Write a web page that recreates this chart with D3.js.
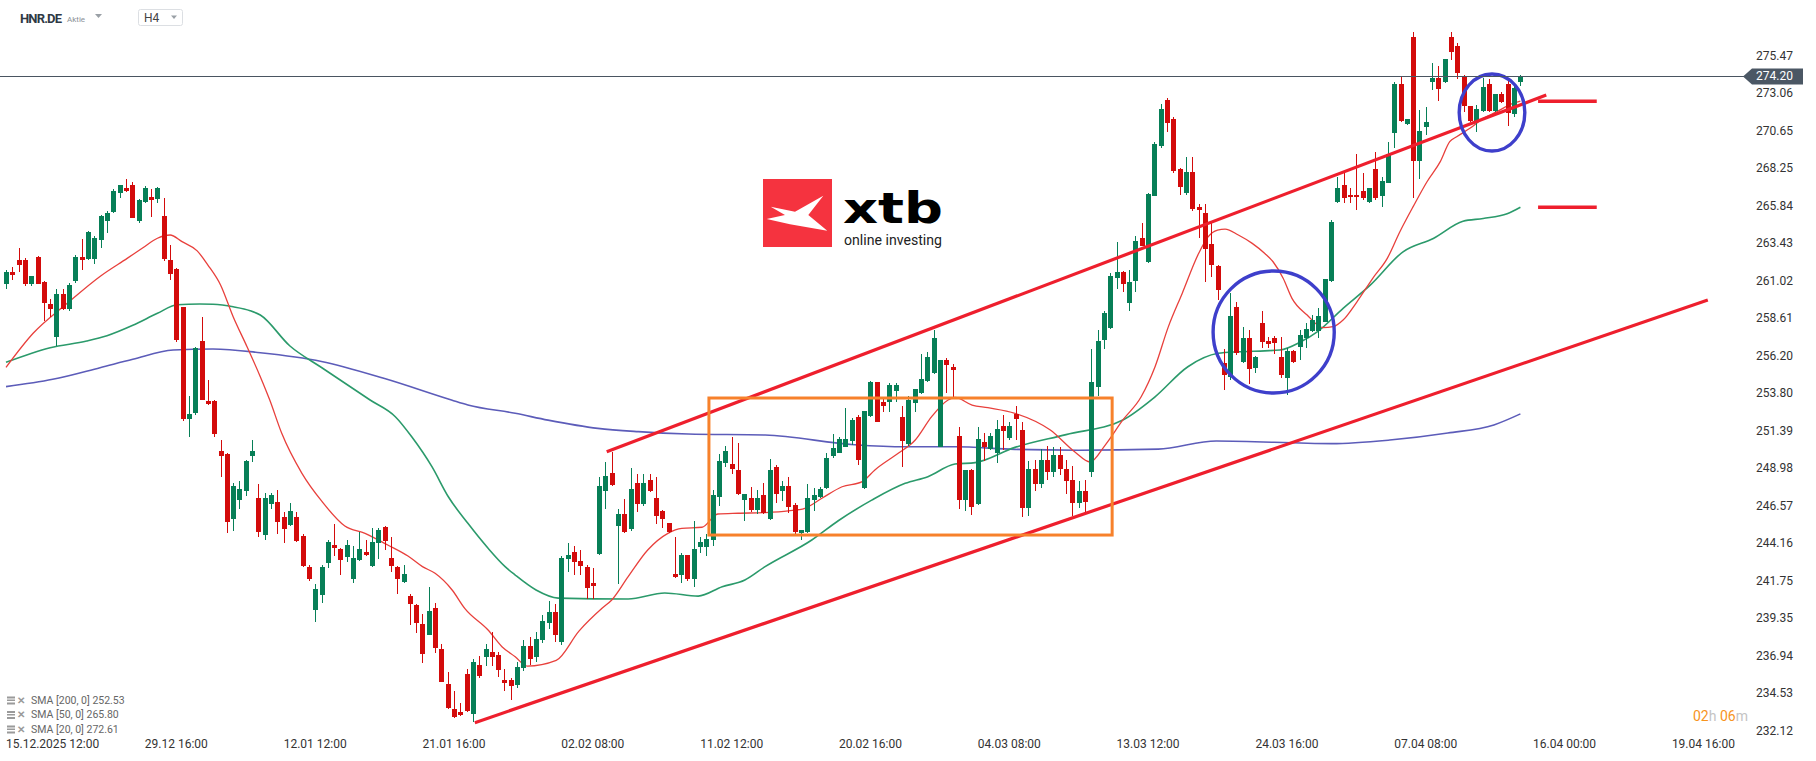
<!DOCTYPE html>
<html><head><meta charset="utf-8">
<script src="https://cdn.jsdelivr.net/npm/d3@7"></script>
<style>
html,body{margin:0;padding:0;background:#fff;overflow:hidden}
svg{display:block;font-family:Roboto,"Liberation Sans",sans-serif}
</style></head><body>
<svg id="chart" width="1816" height="761"></svg>
<script>
// ---------- DATA (H4 candles, HNR.DE) ----------
const opens=[260.89,261.64,262.41,262.41,260.89,262.60,261.00,259.58,257.49,260.23,
259.28,261.06,262.60,262.50,262.50,263.72,264.91,265.51,266.73,267.03,
267.23,264.91,266.16,266.46,266.33,265.24,262.41,261.83,259.39,252.22,
252.61,257.21,253.35,253.35,250.14,249.95,245.80,247.02,247.60,249.84,
247.13,244.75,246.76,246.87,245.91,245.41,245.91,244.69,242.67,239.95,
240.92,242.95,244.11,243.85,243.36,241.92,243.17,243.66,242.78,244.21,
245.26,243.27,242.69,241.75,240.83,240.25,239.03,238.35,240.06,237.43,
235.18,233.57,233.38,235.82,233.27,236.40,236.94,237.24,237.04,235.44,
235.44,235.10,236.20,237.60,236.90,238.00,239.10,239.80,237.90,243.19,
243.66,243.09,242.72,241.67,243.56,247.60,248.76,245.35,246.13,245.14,
248.10,246.75,248.29,247.13,246.28,245.50,242.23,242.17,243.47,241.95,
244.01,244.01,244.41,247.22,249.40,249.32,248.93,247.02,247.11,246.36,
247.30,245.80,249.12,247.60,247.90,246.65,244.90,244.94,247.00,247.17,
247.79,249.84,250.04,250.42,250.81,252.31,247.79,252.41,254.58,253.31,
253.27,254.00,252.33,250.59,253.25,253.85,254.66,255.13,250.42,255.99,
255.52,251.11,247.00,248.92,246.74,250.70,250.25,250.04,251.75,250.98,
252.52,251.50,246.50,249.00,248.00,249.60,248.80,249.90,249.00,248.30,
246.80,247.60,248.80,254.27,257.27,258.06,261.27,261.64,259.67,261.06,
263.82,262.30,266.54,269.73,272.69,271.47,268.23,266.73,268.04,265.79,
265.41,263.44,262.02,255.79,254.87,259.37,255.86,257.40,255.45,258.34,
257.20,257.38,256.20,254.85,256.56,256.84,257.38,257.85,257.85,258.45,
261.06,266.15,267.22,266.62,266.62,266.84,266.15,268.25,266.54,267.39,
270.58,273.69,271.16,276.71,268.79,270.97,273.82,274.07,273.82,276.71,
276.15,274.25,272.30,271.36,272.00,273.69,272.00,273.07,273.69,271.78,
273.82];
const highs=[261.77,261.96,263.18,262.54,261.38,262.65,261.05,259.88,260.55,260.55,
260.91,262.73,263.76,264.30,263.95,265.30,265.56,266.97,267.23,267.61,
267.40,266.30,267.16,266.97,267.10,266.39,263.37,261.90,259.40,253.65,
256.80,258.75,254.70,253.40,250.85,250.04,248.07,248.20,249.55,250.85,
248.02,247.43,247.43,247.64,246.23,246.80,246.23,244.81,242.82,241.60,
242.82,244.43,245.46,243.90,244.43,244.04,244.96,244.43,245.20,245.20,
245.30,244.62,242.75,242.82,240.96,240.30,239.70,241.41,240.40,237.73,
235.95,234.73,233.96,236.12,236.81,236.98,237.73,238.54,237.26,236.12,
235.54,236.60,238.00,238.20,238.50,239.60,240.50,240.30,243.40,244.26,
244.05,243.79,242.80,242.64,248.50,249.44,250.09,246.43,247.05,249.08,
248.65,248.65,248.65,248.46,246.35,245.55,244.65,243.58,243.50,245.65,
244.65,244.82,247.65,249.94,250.47,251.03,250.66,247.39,247.82,247.64,
248.11,249.61,249.24,248.20,248.50,246.83,245.10,248.02,247.75,247.85,
250.04,251.24,251.06,252.91,252.28,252.48,252.73,254.66,254.58,253.57,
254.49,254.49,253.06,253.68,254.10,256.35,256.52,257.92,255.99,256.14,
255.73,251.66,248.92,249.00,251.66,251.28,251.28,252.13,252.43,252.01,
253.03,252.00,249.50,249.60,250.30,250.50,250.40,250.40,249.60,249.20,
248.20,248.30,256.67,257.91,259.15,261.60,263.56,261.68,261.77,263.95,
264.76,266.69,269.99,272.43,272.81,271.57,268.30,269.00,269.00,265.98,
265.98,264.76,262.10,256.67,260.27,259.69,258.11,257.91,256.26,259.15,
257.48,257.53,257.48,256.73,256.63,257.91,258.34,258.87,259.30,261.19,
264.98,267.76,267.97,267.01,269.19,268.02,267.05,269.36,267.76,270.01,
273.86,274.18,271.44,277.07,272.04,272.25,275.08,274.87,275.32,277.07,
276.32,274.29,272.30,272.40,274.07,274.01,273.07,273.22,273.97,273.65,
274.29];
const lows=[260.57,261.12,261.64,260.76,260.76,260.85,258.51,258.77,256.91,259.20,
259.16,260.95,261.79,262.40,262.15,263.18,264.17,265.45,266.39,266.80,
265.10,264.81,266.10,265.19,266.05,262.37,261.12,257.14,252.09,251.06,
252.46,253.40,253.10,251.06,248.49,244.85,245.03,246.44,247.27,249.46,
244.64,244.43,246.44,244.81,244.26,245.35,244.30,242.67,241.82,239.18,
240.40,242.65,243.40,242.20,243.04,241.65,243.10,243.40,242.70,243.23,
243.79,242.40,240.98,241.70,238.99,238.43,236.55,238.30,237.19,235.30,
233.55,233.00,233.10,233.40,232.74,235.60,236.36,236.36,235.61,234.75,
234.15,234.90,236.00,236.40,236.60,237.80,238.70,237.90,237.70,242.38,
242.19,242.19,240.62,240.62,243.50,246.43,247.90,241.61,244.90,245.03,
246.23,246.64,247.50,245.46,245.18,244.90,242.00,241.65,241.82,241.44,
243.62,243.41,244.07,246.64,249.10,248.70,247.30,245.68,246.23,246.10,
246.08,245.70,246.83,246.95,246.14,244.81,244.43,244.90,246.27,247.10,
247.70,249.67,250.00,250.40,250.55,249.27,247.70,252.35,252.00,252.67,
252.67,253.31,249.09,250.50,252.67,253.80,254.60,255.10,250.40,253.89,
253.46,246.42,246.27,246.05,246.70,249.52,250.20,249.35,250.21,250.85,
250.85,245.90,246.00,247.60,247.80,248.30,248.50,248.60,247.40,246.00,
246.50,246.20,248.50,253.69,256.71,258.00,260.55,260.38,259.15,260.35,
263.30,262.20,266.50,269.62,270.65,268.02,266.58,266.58,265.56,263.80,
260.97,261.34,259.86,254.06,254.70,256.29,255.80,254.42,255.13,256.74,
256.78,256.35,254.81,253.74,255.83,255.98,256.73,257.76,257.38,258.40,
261.00,266.10,266.05,266.05,265.60,266.26,266.10,266.26,265.79,267.33,
269.62,271.29,271.10,266.41,267.63,270.43,273.33,272.64,273.80,275.29,
274.03,271.93,271.30,270.65,271.90,271.89,271.95,272.50,271.03,271.61,
273.60];
const closes=[261.64,261.47,262.11,260.89,261.38,260.89,259.67,259.28,260.23,259.28,
260.80,262.60,262.41,264.21,263.82,265.24,265.45,266.84,267.23,266.86,
265.13,266.26,267.03,266.29,267.03,262.50,261.53,257.27,252.22,252.52,
256.76,253.44,253.18,251.26,249.84,245.60,247.90,247.70,249.50,250.14,
244.96,247.13,247.32,245.61,245.16,246.27,244.39,242.78,241.92,241.26,
242.69,244.30,243.94,243.17,244.11,243.27,243.85,243.49,244.30,245.07,
244.39,242.78,241.92,242.25,240.34,239.12,237.13,239.87,237.51,235.33,
233.66,233.08,233.19,233.47,236.59,235.72,237.43,236.94,236.10,235.24,
235.07,236.30,237.60,236.80,238.10,239.20,239.80,238.30,243.26,243.47,
243.00,242.76,241.37,241.50,247.92,248.55,247.99,246.13,244.95,247.71,
246.75,248.10,247.60,245.98,245.80,244.93,242.06,243.47,241.95,243.86,
244.33,244.50,247.32,249.49,250.15,249.02,247.41,247.37,246.36,247.11,
246.14,248.92,247.40,247.90,246.57,244.96,245.07,247.12,247.32,247.70,
249.69,250.34,250.91,250.91,252.13,249.57,252.71,254.55,252.03,253.06,
254.38,254.38,250.81,253.42,254.10,254.75,256.20,257.38,255.99,255.69,
255.35,247.00,248.92,246.57,250.91,250.42,251.11,251.56,251.45,251.75,
252.22,246.50,249.00,248.00,249.60,248.80,249.90,249.00,248.20,246.80,
247.60,246.90,254.59,257.21,259.03,261.38,261.62,260.89,261.02,263.61,
263.33,266.65,269.86,272.11,271.19,268.15,267.12,268.04,265.71,265.62,
263.14,262.09,260.48,255.04,258.81,256.41,257.40,255.43,256.20,257.12,
257.03,257.10,255.06,256.56,255.88,257.59,257.97,258.55,258.81,261.19,
264.87,267.01,266.37,266.47,266.47,266.37,267.01,266.37,267.48,269.24,
273.69,271.36,271.44,268.79,270.69,271.25,274.07,273.39,275.32,275.79,
274.40,272.32,271.36,272.10,273.50,272.00,273.07,272.58,271.83,273.43,
274.20];

// moving averages: [bar index, value]
const sma200=[[0,254.28],[7.4,254.75],[14.9,255.5],[20.1,256.04],[26.5,256.63],[32.8,256.7],[40.3,256.46],
[50,255.9],[60,254.8],[70.6,253.42],[73.2,253.1],[80.7,252.57],[85.9,252.13],[93.8,251.6],[100.2,251.39],
[108.1,251.24],[120.3,251.17],[134.5,250.55],[142.5,250.42],[150.4,250.42],[159.9,250.25],[170,250.2],
[182.6,250.27],[191.8,250.79],[210.1,250.62],[219.3,250.85],[228.5,251.3],[235.8,251.82],[240,252.53]];
const sma50=[[0,255.84],[7,256.78],[12.8,257.21],[16,257.55],[20.1,258.22],[24,258.99],[27.1,259.54],
[30.7,259.59],[32.8,259.57],[36,259.41],[38.7,259.16],[40.3,258.88],[45,256.89],[50,255.51],[57.7,253.42],
[61.7,252.35],[64.3,251.06],[67.5,249.14],[70.1,247.21],[73.2,245.5],[76.4,243.9],[79.1,242.72],[80.7,242.18],
[84,241.22],[87.5,240.7],[98.6,240.64],[104.4,241.03],[109.7,240.83],[113.5,241.43],[117.1,241.86],[120.3,242.72],
[127.7,244.43],[131.9,245.67],[137.2,246.99],[142.5,248.07],[146.1,248.5],[150.4,249.31],[153.6,249.4],
[159.9,250.38],[168,251.2],[177,252.14],[182.1,253.63],[187.3,255.56],[192.1,256.42],[195.3,256.52],
[199.5,256.58],[201.9,256.63],[205.2,257.16],[207.8,257.8],[211.9,259.31],[216.2,260.8],[221.4,262.94],
[226.2,263.8],[230.9,264.9],[234.1,265.08],[237.9,265.38],[240,265.8]];
const sma20=[[0,255.52],[4.3,257.71],[9.7,259.63],[15,261.39],[19.2,262.52],[21.7,263.2],[24,263.81],[26,264.02],
[27.9,263.59],[30.3,263.0],[32,262.09],[34,260.81],[36,258.77],[38.2,256.84],[40.3,254.92],[41.8,253.42],
[43.7,251.28],[46.9,248.71],[50.1,246.89],[53.7,245.33],[56.9,244.86],[60.5,244.11],[63.7,243.4],[66,242.72],
[68,242.29],[70.7,241.22],[72.7,240.04],[76.4,238.65],[78.6,237.58],[80.7,236.93],[82.6,236.33],[87.2,236.7],
[90.8,238.58],[94.5,240.06],[96,240.58],[98.6,242.08],[101.7,243.79],[104.9,244.86],[107.1,245.18],[110.3,245.25],
[112.8,246.1],[116,246.15],[120.3,246.19],[124,246.3],[126.6,246.47],[129.3,247.11],[132.5,247.85],[135.7,248.18],
[137.7,248.93],[141.4,250.0],[144.1,250.85],[146.7,252.35],[149.3,253.42],[150.4,253.59],[153.1,253.1],
[155.6,252.93],[159.9,252.57],[165.5,251.49],[169.4,250.08],[171.8,249.44],[174.2,250.53],[177,252.14],
[179.9,253.63],[182.1,255.56],[184.2,258.12],[186.4,260.27],[189,262.83],[190.5,263.9],[192,264.33],[193.2,264.4],
[195.3,264.02],[197.5,263.48],[199.5,262.83],[200.8,262.3],[202.4,261.24],[203.8,259.95],[206.2,258.88],
[208.7,258.07],[210.3,258.13],[211.9,258.56],[214.1,259.73],[216.6,261.24],[218.9,262.52],[220.9,264.23],
[223,265.84],[225.2,267.44],[227.3,268.73],[228.8,270.01],[229.9,270.33],[232,270.87],[234.1,271.51],
[236.3,271.94],[238.4,272.41],[240,272.62]];

const yTickValues=[275.47,273.06,270.65,268.25,265.84,263.43,261.02,258.61,256.20,253.80,251.39,248.98,246.57,244.16,241.75,239.35,236.94,234.53,232.12];
const xTickLabels=["15.12.2025 12:00","29.12 16:00","12.01 12:00","21.01 16:00","02.02 08:00","11.02 12:00","20.02 16:00","04.03 08:00","13.03 12:00","24.03 16:00","07.04 08:00","16.04 00:00","19.04 16:00"];
const xTickIndex=[5,27,49,71,93,115,137,159,181,203,225,247,269];
const lastPrice=274.20;
const legendNames=["SMA [200, 0]","SMA [50, 0]","SMA [20, 0]"];
const legendValues=[252.53,265.80,272.61];
// drawn annotations, in [bar index, price]
const channelLines=[[95.2,250.10,244.1,273.01],[74.3,232.70,269.7,259.84]];
const levelLines=[[242.8,252.1,272.61],[242.8,252.1,265.80]];
const boxZone=[111.4,175.3,244.75,253.55];
const circleZones=[[191.3,210.5,253.87,261.71],[230.3,240.7,269.41,274.36]];

// ---------- SCALES ----------
const x=d3.scaleLinear().domain([0,269]).range([6,6+6.31*269]);
const y=d3.scaleLinear().domain([232.12,275.47]).range([731.7,56.7]);
const svg=d3.select('#chart');

// ---------- HEADER ----------
svg.append('text').attr('x',20).attr('y',23).attr('font-size',13).attr('font-weight','bold')
  .attr('fill','#2f3945').attr('textLength',42).text('HNR.DE');
svg.append('text').attr('x',67).attr('y',21.5).attr('font-size',8).attr('fill','#8a8f96').text('Aktie');
svg.append('path').attr('d','M95,14L102,14L98.5,18Z').attr('fill','#9aa0a6');
svg.append('rect').attr('x',138.5).attr('y',9.5).attr('width',44).attr('height',16).attr('rx',2)
  .attr('fill','#fff').attr('stroke','#dcdfe3');
svg.append('text').attr('x',144).attr('y',22).attr('font-size',12).attr('fill','#444').text('H4');
svg.append('path').attr('d','M171,15.5L177,15.5L174,19Z').attr('fill','#9aa0a6');

// ---------- LOGO ----------
const logo=svg.append('g').attr('transform','translate(763,179)');
logo.append('rect').attr('width',69).attr('height',68).attr('fill','#f5333f');
logo.append('path').attr('d','M7.7,27.7L32,32.7L60.3,16.7L45.3,36L64.3,51.7L27,45.3L3.7,40L22,36Z').attr('fill','#fff');
svg.append('text').attr('x',843).attr('y',223).attr('font-family','"DejaVu Sans",sans-serif').attr('font-weight','bold')
  .attr('font-size',42).attr('fill','#000').attr('textLength',100).attr('lengthAdjust','spacingAndGlyphs').text('xtb');
svg.append('text').attr('x',844).attr('y',245).attr('font-size',14).attr('fill','#222')
  .attr('textLength',98).attr('lengthAdjust','spacingAndGlyphs').text('online investing');

// ---------- MOVING AVERAGES ----------
const line=d3.line().x(d=>x(d[0])).y(d=>y(d[1])).curve(d3.curveMonotoneX);
[[sma200,'#5c5cb9',1.6],[sma50,'#2b9a6b',1.6],[sma20,'#e8403c',1.3]].forEach(([d,c,w])=>{
  svg.append('path').datum(d).attr('d',line).attr('fill','none').attr('stroke',c).attr('stroke-width',w);
});

// ---------- CANDLES ----------
const idx=d3.range(opens.length);
const cg=svg.append('g').attr('shape-rendering','crispEdges');
const col=i=>closes[i]>=opens[i]?'#077f57':'#d30b0b';
cg.selectAll('line.w').data(idx).join('line').attr('class','w')
  .attr('x1',i=>Math.round(x(i))+0.5).attr('x2',i=>Math.round(x(i))+0.5)
  .attr('y1',i=>y(highs[i])).attr('y2',i=>y(lows[i])).attr('stroke',col);
cg.selectAll('rect.b').data(idx).join('rect').attr('class','b')
  .attr('x',i=>Math.round(x(i))-2).attr('width',5)
  .attr('y',i=>y(Math.max(opens[i],closes[i])))
  .attr('height',i=>Math.max(1,y(Math.min(opens[i],closes[i]))-y(Math.max(opens[i],closes[i]))))
  .attr('fill',col);

// ---------- ANNOTATIONS ----------
channelLines.forEach(([k1,p1,k2,p2])=>{
  svg.append('line').attr('x1',x(k1)).attr('y1',y(p1)).attr('x2',x(k2)).attr('y2',y(p2))
    .attr('stroke','#ee1f2d').attr('stroke-width',3.2);
});
levelLines.forEach(([k1,k2,p])=>{
  svg.append('line').attr('x1',x(k1)).attr('x2',x(k2)).attr('y1',y(p)).attr('y2',y(p))
    .attr('stroke','#ee1f2d').attr('stroke-width',3.6);
});
svg.append('rect').attr('x',x(boxZone[0])).attr('y',y(boxZone[3]))
  .attr('width',x(boxZone[1])-x(boxZone[0])).attr('height',y(boxZone[2])-y(boxZone[3]))
  .attr('fill','none').attr('stroke','#f7812b').attr('stroke-width',3);
circleZones.forEach(([k1,k2,p1,p2])=>{
  svg.append('ellipse').attr('cx',(x(k1)+x(k2))/2).attr('cy',(y(p1)+y(p2))/2)
    .attr('rx',(x(k2)-x(k1))/2).attr('ry',(y(p1)-y(p2))/2)
    .attr('fill','none').attr('stroke','#3e3fcb').attr('stroke-width',3.4);
});

// ---------- PRICE LINE & Y AXIS ----------
svg.append('line').attr('x1',0).attr('x2',1744).attr('y1',Math.round(y(lastPrice))+0.5).attr('y2',Math.round(y(lastPrice))+0.5)
  .attr('stroke','#4a5561').attr('stroke-width',1);
svg.selectAll('text.yt').data(yTickValues).join('text').attr('class','yt')
  .attr('x',1756).attr('y',d=>y(d)).attr('dominant-baseline','middle')
  .attr('font-size',12).attr('fill','#333').text(d=>d.toFixed(2));
const ty=y(lastPrice);
svg.append('path').attr('d',`M1743,${ty}L1752,${ty-8}L1803,${ty-8}L1803,${ty+8}L1752,${ty+8}Z`).attr('fill','#4b5764');
svg.append('text').attr('x',1756).attr('y',ty).attr('dominant-baseline','middle')
  .attr('font-size',12).attr('fill','#fff').text(lastPrice.toFixed(2));

// ---------- X AXIS ----------
svg.selectAll('text.xt').data(xTickLabels).join('text').attr('class','xt')
  .attr('y',745).attr('dominant-baseline','middle').attr('font-size',12).attr('fill','#333')
  .text(d=>d)
  .each(function(d,i){
    const w=this.getComputedTextLength();
    let left=x(xTickIndex[i])-w/2;
    if(left<6) left=6;
    d3.select(this).attr('x',left);
  });

// ---------- LEGEND ----------
legendNames.forEach((n,i)=>{
  const yy=701+i*14.5;
  const g=svg.append('g');
  g.append('rect').attr('x',7).attr('y',yy-4.5).attr('width',8).attr('height',2).attr('fill','#9a9a9a');
  g.append('rect').attr('x',7).attr('y',yy-1.5).attr('width',8).attr('height',1.5).attr('fill','#9a9a9a');
  g.append('rect').attr('x',7).attr('y',yy+1.5).attr('width',8).attr('height',2).attr('fill','#9a9a9a');
  g.append('text').attr('x',17).attr('y',yy).attr('dominant-baseline','middle').attr('font-size',10)
    .attr('font-weight','bold').attr('fill','#9a9a9a').text('✕');
  g.append('text').attr('x',31).attr('y',yy).attr('dominant-baseline','middle').attr('font-size',10.5)
    .attr('fill','#666').text(n+' '+legendValues[i].toFixed(2));
});

// ---------- COUNTDOWN ----------
const cd=svg.append('text').attr('x',1693).attr('y',717).attr('dominant-baseline','middle').attr('font-size',14);
cd.append('tspan').attr('fill','#f7941d').text('02');
cd.append('tspan').attr('fill','#c4c4c4').text('h ');
cd.append('tspan').attr('fill','#f7941d').text('06');
cd.append('tspan').attr('fill','#c4c4c4').text('m');
</script>
</body></html>
